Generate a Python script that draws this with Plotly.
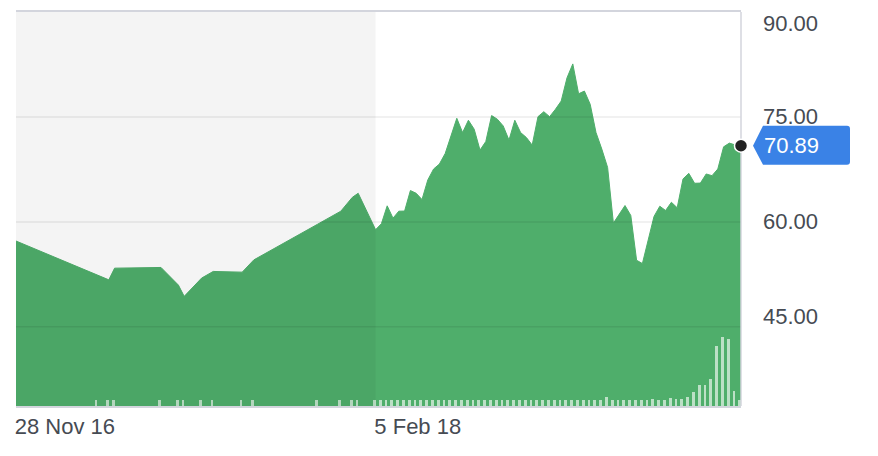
import plotly.graph_objects as go

# ---------------- data ----------------
left_dates = ["2016-11-28", "2017-03-06", "2017-03-20", "2017-03-27", "2017-05-22",
              "2017-06-12", "2017-06-19", "2017-07-10", "2017-07-24", "2017-08-28",
              "2017-09-11", "2017-11-27", "2017-12-25", "2018-01-08", "2018-01-15"]
left_prices = [57.27, 52.41, 51.72, 53.39, 53.49,
               50.97, 49.36, 51.97, 52.92, 52.82,
               54.57, 59.67, 61.53, 63.52, 64.09]
left_volumes = [60, 60, 60, 60, 60, 60, 60, 60, 60, 60, 60, 60, 60, 60, 60]

right_dates = [
    "2018-02-05", "2018-02-12", "2018-02-19", "2018-02-26", "2018-03-05", "2018-03-12",
    "2018-03-19", "2018-03-26", "2018-04-02", "2018-04-09", "2018-04-16", "2018-04-23",
    "2018-04-30", "2018-05-07", "2018-05-14", "2018-05-21", "2018-05-28", "2018-06-04",
    "2018-06-11", "2018-06-18", "2018-06-25", "2018-07-02", "2018-07-09", "2018-07-16",
    "2018-07-23", "2018-07-30", "2018-08-06", "2018-08-13", "2018-08-20", "2018-08-27",
    "2018-09-03", "2018-09-10", "2018-09-17", "2018-09-24", "2018-10-01", "2018-10-08",
    "2018-10-15", "2018-10-22", "2018-10-29", "2018-11-05", "2018-11-12", "2018-11-19",
    "2018-11-26", "2018-12-03", "2018-12-10", "2018-12-17", "2018-12-24", "2018-12-31",
    "2019-01-07", "2019-01-14", "2019-01-21", "2019-01-28", "2019-02-04", "2019-02-11",
    "2019-02-18", "2019-02-25", "2019-03-04", "2019-03-11", "2019-03-18", "2019-03-25",
    "2019-04-01", "2019-04-08", "2019-04-15", "2019-04-22"]
right_prices = [
    58.89, 59.74, 62.30, 60.54, 61.53, 61.55, 64.48, 64.09, 63.20, 66.00,
    67.56, 68.27, 69.78, 72.30, 74.81, 72.77, 74.53, 73.25, 70.26, 71.49,
    75.20, 74.67, 73.72, 71.69, 74.53, 72.77, 72.06, 70.98, 75.04, 75.75,
    75.04, 76.09, 77.27, 80.59, 82.58, 78.31, 78.70, 76.81, 72.77, 70.41,
    67.79, 59.83, 61.16, 62.34, 60.92, 54.52, 54.05, 57.37, 60.78, 62.24,
    61.63, 62.81, 62.02, 66.14, 66.94, 65.52, 65.55, 66.85, 66.61, 67.56,
    70.73, 71.26, 71.00, 70.89]
right_volumes = [
    60, 60, 60, 60, 60, 60, 60, 60, 60, 60,
    60, 60, 60, 60, 60, 60, 60, 60, 60, 60,
    60, 60, 60, 60, 60, 60, 60, 60, 60, 60,
    60, 60, 60, 60, 60, 60, 60, 60, 60, 60,
    90, 60, 60, 60, 60, 60, 60, 60, 70, 60,
    65, 85, 70, 75, 95, 145, 215, 215, 270, 605,
    695, 670, 155, 65]

shaded_period = ("2016-11-28", "2018-02-05")
x_tick_dates = ["2016-11-28", "2018-02-05"]
y_ticks = [45, 60, 75, 90]
y_tick_labels = ["45.00", "60.00", "75.00", "90.00"]

dates = left_dates + right_dates
prices = left_prices + right_prices
volumes = left_volumes + right_volumes

# ---------------- style ----------------
GREEN = "#4fae6b"
TEXT = "#464b53"
BORDER = "#d3d5dd"
BLUE = "#3a82e6"
FONT = "Liberation Sans, Arial, sans-serif"
DAY_MS = 86400000
label_yshift = {90: -11, 75: 0, 60: 0, 45: 10}

fig = go.Figure()

fig.add_trace(go.Scatter(
    x=dates, y=prices, mode="lines", fill="tozeroy",
    line=dict(color=GREEN, width=1), fillcolor=GREEN,
    hoverinfo="skip", yaxis="y"))

fig.add_trace(go.Bar(
    x=dates, y=volumes, yaxis="y2",
    marker=dict(color="rgba(255,255,255,0.62)", line=dict(width=0)),
    width=3.6 * DAY_MS, offset=-3.25 * DAY_MS, hoverinfo="skip"))

shapes = [
    dict(type="rect", xref="x", yref="paper", x0=shaded_period[0], x1=shaded_period[1],
         y0=0, y1=1, fillcolor="rgba(0,0,0,0.045)", line=dict(width=0), layer="above"),
]
for t in y_ticks[:-1]:
    shapes.append(dict(type="line", xref="paper", yref="y", x0=0, x1=1, y0=t, y1=t,
                       line=dict(color="rgba(0,0,0,0.075)", width=1.5), layer="above"))

# right border of the plot
shapes.append(dict(type="line", xref="paper", yref="paper", x0=1, x1=1, y0=0, y1=1,
                   line=dict(color=BORDER, width=1.5), layer="above"))

# callout bubble for the last price
shapes.append(dict(
    type="path", xref="paper", yref="y",
    xsizemode="pixel", ysizemode="pixel", xanchor=1, yanchor=prices[-1],
    path="M 12,0 L 22,20 L 106,20 Q 109,20 109,17 L 109,-16 Q 109,-19 106,-19 L 22,-19 Z",
    fillcolor=BLUE, line=dict(width=0), layer="above"))

# last-price dot (the last date sits on the right edge of the plot)
shapes.append(dict(
    type="circle", xref="paper", yref="y",
    xsizemode="pixel", ysizemode="pixel", xanchor=1, yanchor=prices[-1],
    x0=-6.5, x1=6.5, y0=-6.5, y1=6.5,
    fillcolor="#222222", line=dict(color="white", width=1.5), layer="above"))

annotations = [dict(
    xref="paper", yref="y", x=1, y=prices[-1], xanchor="left", yanchor="middle",
    xshift=21, text=f"{prices[-1]:.2f}", showarrow=False,
    font=dict(family=FONT, size=22, color="white"))]
for t, lab in zip(y_ticks, y_tick_labels):
    annotations.append(dict(
        xref="paper", yref="y", x=1, y=t, xanchor="left", yanchor="middle",
        xshift=20, yshift=label_yshift[t], text=lab, showarrow=False,
        font=dict(family=FONT, size=22, color=TEXT)))

fig.update_layout(
    width=878, height=456,
    margin=dict(l=16, r=137, t=10, b=50),
    paper_bgcolor="white", plot_bgcolor="white",
    showlegend=False, bargap=0,
    font=dict(family=FONT, size=22, color=TEXT),
    shapes=shapes,
    annotations=annotations,
    xaxis=dict(
        type="date", range=[dates[0], dates[-1]],
        tickvals=x_tick_dates, tickformat="%-d %b %y",
        ticklabelposition="outside right", ticklabelshift=-2, ticks="",
        showgrid=False, zeroline=False,
        showline=True, linecolor=BORDER, linewidth=1.5, mirror=True,
        layer="above traces", fixedrange=True),
    yaxis=dict(
        side="right", range=[33.69, 90],
        tickvals=y_ticks, showticklabels=False, ticks="",
        showgrid=False, zeroline=False, showline=False),
    yaxis2=dict(overlaying="y", range=[0, 3960], visible=False),
)

fig.write_html("out.html")
